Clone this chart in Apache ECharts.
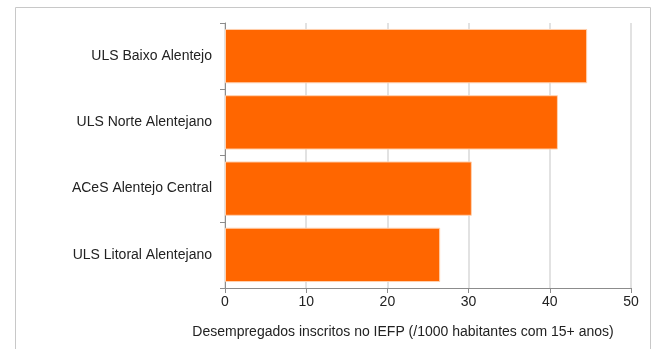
<!DOCTYPE html>
<html>
<head>
<meta charset="utf-8">
<script src="https://cdn.jsdelivr.net/npm/echarts@6/dist/echarts.min.js"></script>
<style>
  html, body { margin: 0; padding: 0; background: #fff; }
  #chart { width: 652px; height: 349px; }
</style>
</head>
<body>
<div id="chart"></div>
<script>
// Health units of the Alentejo region (top to bottom as drawn)
const categories = [
  'ULS Litoral Alentejano',
  'ACeS Alentejo Central',
  'ULS Norte Alentejano',
  'ULS Baixo Alentejo'
];
// Registered unemployed per 1000 inhabitants aged 15+
const values = [26.5, 30.4, 41.0, 44.6];
const xTicks = { min: 0, max: 50, interval: 10 };
const xName = 'Desempregados inscritos no IEFP (/1000 habitantes com 15+ anos)';

const chart = echarts.init(document.getElementById('chart'), null, { renderer: 'canvas' });
const font = 'Arial, "Liberation Sans", sans-serif';

chart.setOption({
  animation: false,
  graphic: [{
    type: 'rect',
    shape: { x: 15.5, y: 7.5, width: 635, height: 360 },
    style: { fill: 'none', stroke: '#c8c8c8', lineWidth: 1 },
    silent: true,
    z: -1
  }],
  grid: { left: 225, right: 21, top: 23, bottom: 61, containLabel: false },
  xAxis: {
    type: 'value',
    min: xTicks.min,
    max: xTicks.max,
    interval: xTicks.interval,
    name: xName,
    nameLocation: 'middle',
    nameGap: 37,
    nameTextStyle: { fontFamily: font, fontSize: 14, color: '#222', padding: [0, 50, 0, 0] },
    axisLine: { show: true, lineStyle: { color: '#8c8c8c', width: 1 } },
    axisTick: { show: true, length: 5, lineStyle: { color: '#8c8c8c' } },
    axisLabel: { fontFamily: font, fontSize: 14, color: '#222', margin: 7 },
    splitLine: { show: true, lineStyle: { color: '#d9d9d9', width: 1.5 } }
  },
  yAxis: {
    type: 'category',
    data: categories,
    axisLine: { show: true, lineStyle: { color: '#8c8c8c', width: 1 } },
    axisTick: { show: true, length: 5, lineStyle: { color: '#8c8c8c' } },
    axisLabel: { fontFamily: font, fontSize: 14, color: '#222', margin: 13 },
    splitLine: { show: false }
  },
  series: [{
    type: 'bar',
    data: values,
    barCategoryGap: '18%',
    itemStyle: { color: '#ff6600', borderColor: '#ffd2b0', borderWidth: 1 }
  }]
});
</script>
</body>
</html>
